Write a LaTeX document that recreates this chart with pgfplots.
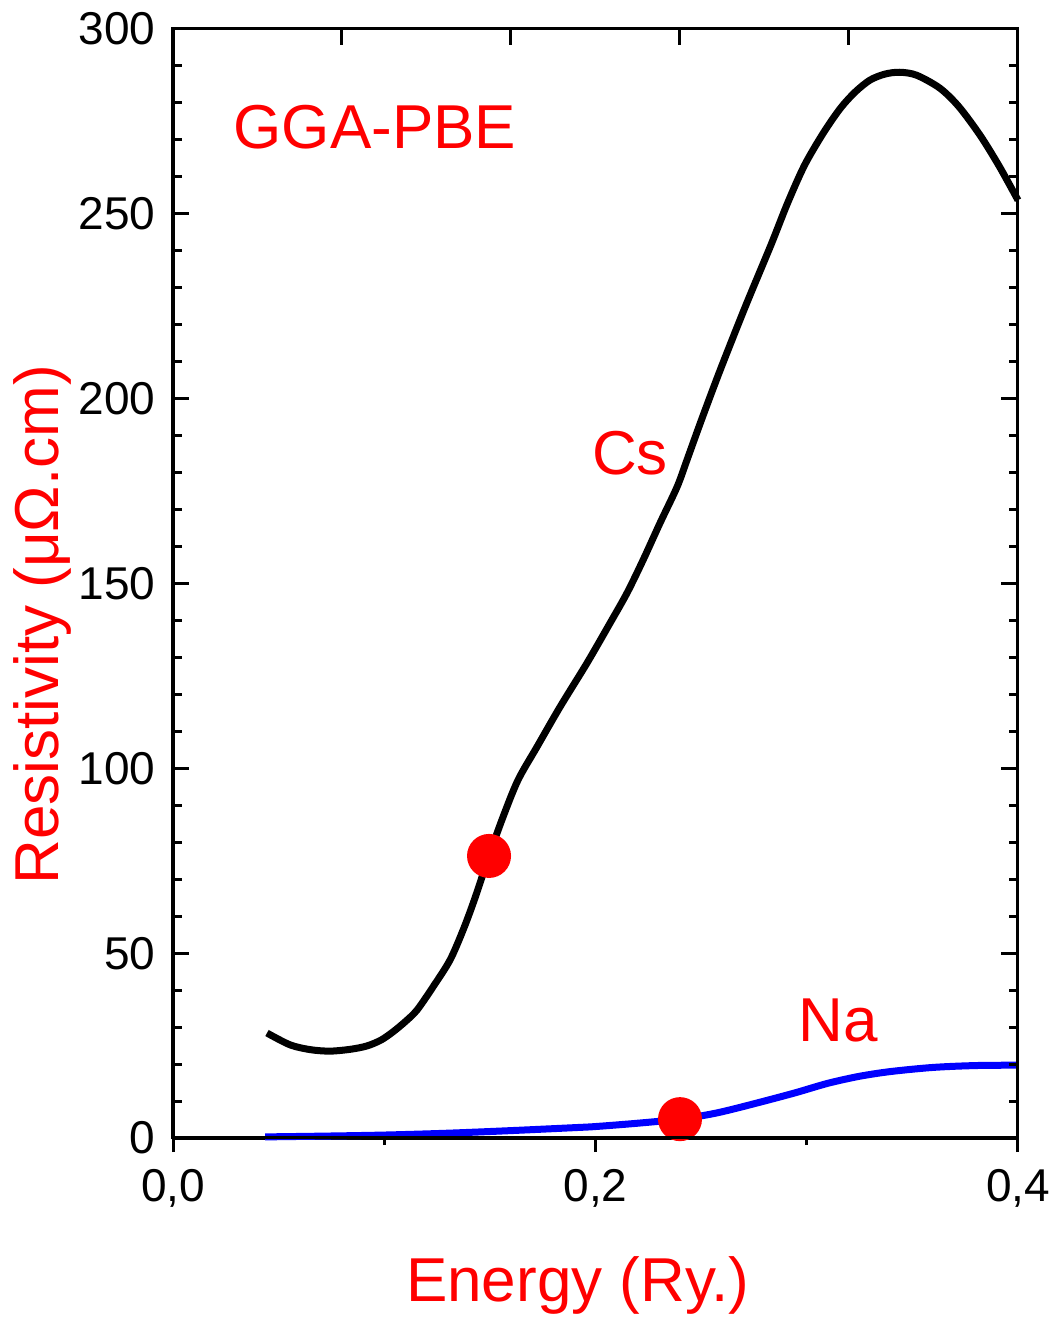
\documentclass[border=0pt]{standalone}
\usepackage{fontspec}
\setmainfont{Liberation Sans}
\usepackage{pgfplots}
\pgfplotsset{compat=1.18}
\definecolor{pblue}{RGB}{0,0,255}
\definecolor{pred}{RGB}{255,0,0}
\begin{document}
\begin{tikzpicture}
\begin{axis}[name=ax, at={(0,0)}, anchor=south west, scale only axis,
  width=169pt, height=221.8pt,
  xmin=0, xmax=0.4, ymin=0, ymax=300,
  xtick={0,0.2,0.4}, xticklabels={{0,0},{0,2},{0,4}},
  minor xtick={0.1,0.3}, xtick pos=left, tick align=outside,
  ytick=\empty,
  major tick length=2.8pt, minor tick length=1.4pt,
  axis line style={line width=0.6pt},
  every tick/.style={line width=0.6pt, black},
  tick label style={font=\fontsize{9.2}{11}\selectfont},
  /pgf/number format/assume math mode=true,
  xlabel={Energy (Ry.)},
  xlabel style={at={(axis description cs:0.479,-0.1326)}, anchor=center, text=pred, font=\fontsize{12.4}{14}\selectfont},
  clip=false]
\addplot[black, line width=1.4pt, smooth] coordinates {
(0.0445,28.4)(0.0554,25.2)(0.065,23.9)(0.0743,23.5)(0.084,24)(0.0918,24.9)(0.0985,26.5)(0.1041,28.7)(0.1100,31.5)(0.1155,34.6)(0.123,40.8)(0.1311,48.1)(0.1375,56.5)(0.143,65)(0.1496,76.3)(0.156,86.5)(0.1633,96.8)(0.1723,105.8)(0.1832,116.6)(0.196,128.5)(0.2069,139.3)(0.2149,147.4)(0.2225,156.3)(0.2305,166.3)(0.2386,176.1)(0.2433,183.4)(0.25,194)(0.259,207.7)(0.271,225)(0.283,241.5)(0.291,253)(0.299,263.2)(0.308,272)(0.316,278.6)(0.323,283)(0.33,286.2)(0.337,287.8)(0.344,288.3)(0.352,287.5)(0.363,284)(0.372,279)(0.382,271.3)(0.391,263)(0.4,253.7)};
\addplot[pblue, line width=1.4pt, smooth] coordinates {
(0.0436,0.3)(0.07,0.5)(0.1,0.8)(0.13,1.3)(0.16,2.0)(0.19,2.8)(0.2,3.1)(0.22,4.0)(0.24,5.1)(0.255,6.5)(0.265,7.8)(0.28,10)(0.295,12.3)(0.31,14.8)(0.325,16.7)(0.34,18)(0.36,19.1)(0.38,19.6)(0.4,19.7)};
\addplot[only marks, mark=*, mark size=4.2pt, mark options={draw=pred, fill=pred}] coordinates {(0.1496,76.3)(0.24,5.1)};
\node[text=pred, font=\fontsize{12.4}{14}\selectfont] at (axis cs:0.0956,273.5) {GGA-PBE};
\node[text=pred, font=\fontsize{12.4}{14}\selectfont] at (axis cs:0.2163,185.3) {Cs};
\node[text=pred, font=\fontsize{12.4}{14}\selectfont] at (axis cs:0.3148,31.9) {Na};
\end{axis}
\begin{axis}[at={(0,0)}, anchor=south west, scale only axis,
  width=169pt, height=221.8pt,
  xmin=0, xmax=0.4, ymin=0, ymax=300,
  xtick={0.08,0.16,0.24,0.32}, xticklabels={}, xtick pos=right,
  ytick={0,50,...,300}, minor y tick num=4, ytick pos=both, yticklabel pos=left,
  tick align=inside,
  major tick length=3.3pt, minor tick length=1.8pt,
  axis line style={line width=0.6pt},
  every tick/.style={line width=0.6pt, black},
  tick label style={font=\fontsize{9.2}{11}\selectfont},
  /pgf/number format/assume math mode=true,
  ylabel={Resistivity (μΩ.cm)},
  ylabel style={at={(axis description cs:-0.155,0.4626)}, anchor=center, text=pred, font=\fontsize{12.4}{14}\selectfont}]
\end{axis}
\pgfresetboundingbox
\path (-34.6pt,-36.6pt) rectangle (176.8pt,227.6pt);
\end{tikzpicture}
\end{document}
